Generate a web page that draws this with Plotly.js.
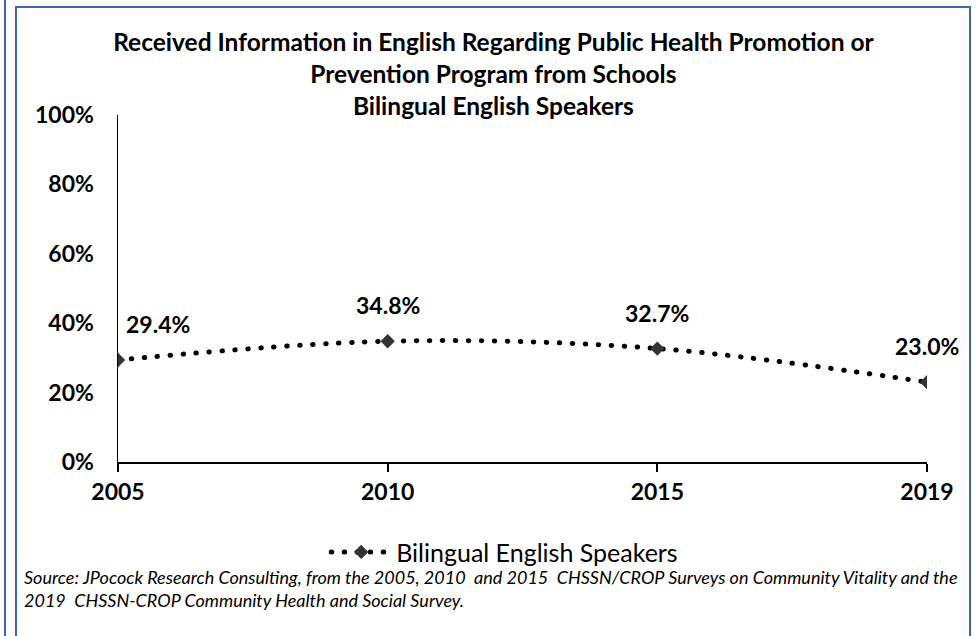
<!DOCTYPE html>
<html>
<head>
<meta charset="utf-8">
<script src="https://cdn.plot.ly/plotly-3.0.1.min.js"></script>
<style>
  html, body { margin: 0; padding: 0; background: #ffffff; }
  #wrap { position: relative; width: 977px; height: 636px; overflow: hidden; }
  #chart { position: absolute; left: 0; top: 0; width: 977px; height: 636px; }
  .frame { position: absolute; background: #4066aa; pointer-events: none; }
  .scatterlayer .js-line, .legend .js-line { stroke-linecap: round; }
</style>
</head>
<body>
<div id="wrap">
  <div id="chart"></div>
  <div class="frame" style="left:4px; top:0; width:2px; height:636px;"></div>
  <div class="frame" style="left:15px; top:6px; width:2px; height:630px;"></div>
  <div class="frame" style="left:15px; top:6px; width:956px; height:2px;"></div>
  <div class="frame" style="left:969px; top:6px; width:2px; height:630px;"></div>
</div>
<script>
// ---- data ----
const years = ["2005", "2010", "2015", "2019"];
const values = [29.4, 34.8, 32.7, 23.0];
const valueLabels = ["29.4%", "34.8%", "32.7%", "23.0%"];
const seriesName = "Bilingual English Speakers";
const yTickVals = [0, 20, 40, 60, 80, 100];
const yTickText = ["0%", "20%", "40%", "60%", "80%", "100%"];
const titleText = "Received Information in English Regarding Public Health Promotion or<br>Prevention Program from Schools<br>Bilingual English Speakers";
const sourceText = "Source: JPocock Research Consulting, from the 2005, 2010  and 2015  CHSSN/CROP Surveys on Community Vitality and the<br>2019  CHSSN-CROP Community Health and Social Survey.";

const FONT = "Lato, 'Open Sans', sans-serif";

const trace = {
  x: years,
  y: values,
  type: "scatter",
  mode: "lines+markers",
  name: seriesName,
  line: { color: "#000000", width: 5, dash: "0.5px,12.5px", shape: "spline", smoothing: 1 },
  marker: { symbol: "diamond", size: 11, color: "#333333" },
  hoverinfo: "skip"
};

const labelXShift = [40, 0, 0, 0];
const annotations = years.map((yr, i) => ({
  x: i, y: values[i], xref: "x", yref: "y",
  text: "<b>" + valueLabels[i] + "</b>",
  showarrow: false, yshift: 36, xshift: labelXShift[i],
  font: { family: FONT, size: 23, color: "#000000" }
}));
annotations.push({
  xref: "paper", yref: "paper", x: -0.119, y: -0.293,
  xanchor: "left", yanchor: "top", align: "left",
  text: "<i>" + sourceText + "</i>", showarrow: false,
  font: { family: FONT, size: 18, color: "#000000" }
});

const layout = {
  width: 977, height: 636,
  margin: { l: 118, r: 50, t: 115, b: 174 },
  paper_bgcolor: "#ffffff", plot_bgcolor: "#ffffff",
  font: { family: FONT, color: "#000000" },
  title: {
    text: "<b>" + titleText + "</b>",
    xref: "container", x: 0.505, xanchor: "center",
    yref: "container", y: 0.92, yanchor: "top",
    font: { family: FONT, size: 24.5, color: "#000000" }
  },
  xaxis: {
    type: "category", range: [0, 3],
    showline: true, linecolor: "#000000", linewidth: 2,
    ticks: "outside", ticklen: 8, tickwidth: 2, tickcolor: "#000000",
    showgrid: false, zeroline: false,
    tickfont: { family: FONT, size: 23, color: "#000000", weight: "bold" }
  },
  yaxis: {
    range: [0, 100], tickvals: yTickVals, ticktext: yTickText,
    showline: true, linecolor: "#000000", linewidth: 1.5,
    ticks: "", showgrid: false, zeroline: false, ticklabelstandoff: 18,
    tickfont: { family: FONT, size: 23, color: "#000000", weight: "bold" }
  },
  showlegend: true,
  legend: {
    orientation: "h", xref: "paper", yref: "paper",
    x: 0.478, xanchor: "center", y: -0.26, yanchor: "middle",
    font: { family: FONT, size: 25, color: "#000000" },
    itemwidth: 60
  },
  annotations: annotations
};

Plotly.newPlot("chart", [trace], layout, { displayModeBar: false, staticPlot: true });
</script>
</body>
</html>
